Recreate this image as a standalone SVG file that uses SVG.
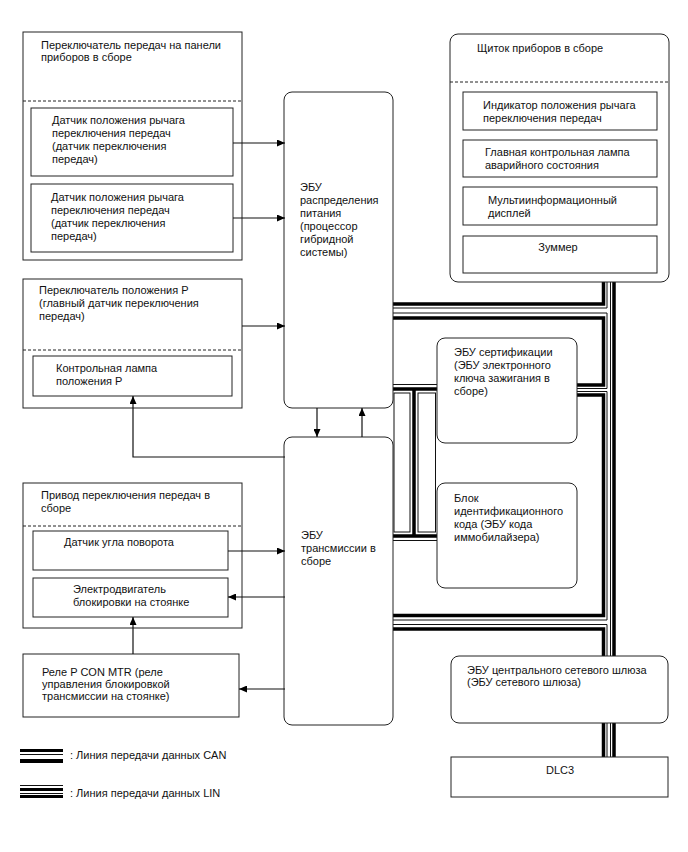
<svg xmlns="http://www.w3.org/2000/svg" width="688" height="852" viewBox="0 0 688 852">
<style>
text{font-family:"Liberation Sans",Arial,sans-serif;font-size:11px;fill:#111}
.b{fill:#fff;stroke:#222;stroke-width:1}
.d{stroke:#222;stroke-width:1;stroke-dasharray:3,2;fill:none}
.c{fill:none;stroke:#111;stroke-width:1.2}
.tk{fill:none;stroke:#000;stroke-width:3.5}
.tn{fill:none;stroke:#111;stroke-width:1}
.m{text-anchor:middle}
</style>
<defs>
<marker id="ah" markerWidth="8" markerHeight="7" refX="8" refY="3.5" orient="auto" markerUnits="userSpaceOnUse">
<path d="M0,0 L8,3.5 L0,7 z" fill="#000"/>
</marker>
</defs>
<rect width="688" height="852" fill="#fff"/>

<g id="bus">
<path class="tk" d="M393,304 H603.5 V282"/>
<path class="tn" d="M607,282 V308 H393 M393,313 H607 V388.5 H577 M577,391.5 H607 V620 H393 M393,624.5 H607 V656"/>
<path class="tn" d="M610.5,282 V656 M607,723 V757 M610.5,723 V757"/>
<path class="tk" d="M393,318 H603.5 V385 H577"/>
<path class="tk" d="M577,395 H603.5 V615.5 H393"/>
<path class="tk" d="M393,629 H603.5 V656"/>
<path class="tk" d="M614,282 V656 M614,723 V757 M603.5,723 V757"/>
<path class="tn" d="M393,384.5 H437 M393,540.5 H437"/>
<path class="tk" d="M393,389 H437 M414,389 V536 M393,536 H437"/>
<rect class="tn" x="394" y="393" width="16" height="139" fill="none"/>
<rect class="tn" x="418" y="393" width="17.5" height="139" fill="none"/>
</g>

<g id="n_shifter">
<rect class="b" x="23" y="32" width="219" height="228"/>
<line class="d" x1="23" y1="101" x2="242" y2="101"/>
<text x="41" y="49">Переключатель передач на панели</text>
<text x="41" y="61">приборов в сборе</text>
</g>
<g id="n_sensor1">
<rect class="b" x="31" y="108" width="202" height="68"/>
<text x="52" y="124">Датчик положения рычага</text>
<text x="52" y="137">переключения передач</text>
<text x="52" y="150">(датчик переключения</text>
<text x="52" y="163">передач)</text>
</g>
<g id="n_sensor2">
<rect class="b" x="31" y="184" width="202" height="68"/>
<text x="51" y="201">Датчик положения рычага</text>
<text x="51" y="214">переключения передач</text>
<text x="51" y="227">(датчик переключения</text>
<text x="51" y="240">передач)</text>
</g>

<g id="n_pswitch">
<rect class="b" x="23" y="279" width="219" height="129"/>
<line class="d" x1="23" y1="350" x2="242" y2="350"/>
<text x="39" y="294">Переключатель положения P</text>
<text x="39" y="307">(главный датчик переключения</text>
<text x="39" y="320">передач)</text>
</g>
<g id="n_plamp">
<rect class="b" x="33" y="356" width="199" height="40"/>
<text x="56" y="372">Контрольная лампа</text>
<text x="56" y="385">положения P</text>
</g>

<g id="n_actuator">
<rect class="b" x="23" y="483" width="219" height="145"/>
<line class="d" x1="23" y1="526" x2="242" y2="526"/>
<text x="41" y="499">Привод переключения передач в</text>
<text x="41" y="512">сборе</text>
</g>
<g id="n_angle">
<rect class="b" x="33" y="531" width="195" height="39"/>
<text x="64" y="546">Датчик угла поворота</text>
</g>
<g id="n_motor">
<rect class="b" x="33" y="578" width="195" height="39"/>
<text x="73" y="593">Электродвигатель</text>
<text x="73" y="606">блокировки на стоянке</text>
</g>
<g id="n_relay">
<rect class="b" x="23" y="654" width="216" height="63"/>
<text x="42" y="676">Реле P CON MTR (реле</text>
<text x="42" y="688">управления блокировкой</text>
<text x="42" y="700">трансмиссии на стоянке)</text>
</g>

<g id="n_power">
<rect class="b" x="284" y="92" width="109" height="316" rx="8"/>
<text x="300" y="191">ЭБУ</text>
<text x="300" y="204">распределения</text>
<text x="300" y="217">питания</text>
<text x="300" y="230">(процессор</text>
<text x="300" y="243">гибридной</text>
<text x="300" y="256">системы)</text>
</g>
<g id="n_trans">
<rect class="b" x="284" y="437" width="109" height="288" rx="8"/>
<text x="301" y="539">ЭБУ</text>
<text x="301" y="552">трансмиссии в</text>
<text x="301" y="565">сборе</text>
</g>

<g id="n_cluster">
<rect class="b" x="450" y="34" width="219" height="248" rx="8"/>
<line class="d" x1="450" y1="82" x2="669" y2="82"/>
<text x="477" y="52">Щиток приборов в сборе</text>
</g>
<g id="n_indicator">
<rect class="b" x="463" y="92" width="194" height="38"/>
<text x="483" y="109">Индикатор положения рычага</text>
<text x="483" y="122">переключения передач</text>
</g>
<g id="n_master">
<rect class="b" x="463" y="140" width="194" height="37"/>
<text x="485" y="156">Главная контрольная лампа</text>
<text x="485" y="169">аварийного состояния</text>
</g>
<g id="n_multi">
<rect class="b" x="463" y="187" width="194" height="38"/>
<text x="488" y="204">Мультиинформационный</text>
<text x="488" y="217">дисплей</text>
</g>
<g id="n_buzzer">
<rect class="b" x="463" y="236" width="194" height="37"/>
<text class="m" x="558" y="251">Зуммер</text>
</g>

<g id="n_cert">
<rect class="b" x="437" y="338" width="140" height="105" rx="8"/>
<text x="454" y="356">ЭБУ сертификации</text>
<text x="454" y="369">(ЭБУ электронного</text>
<text x="454" y="382">ключа зажигания в</text>
<text x="454" y="395">сборе)</text>
</g>
<g id="n_immo">
<rect class="b" x="437" y="483" width="140" height="105" rx="8"/>
<text x="454" y="502">Блок</text>
<text x="454" y="515">идентификационного</text>
<text x="454" y="528">кода (ЭБУ кода</text>
<text x="454" y="541">иммобилайзера)</text>
</g>
<g id="n_gateway">
<rect class="b" x="451" y="656" width="217" height="67" rx="8"/>
<text x="467" y="674">ЭБУ центрального сетевого шлюза</text>
<text x="467" y="686">(ЭБУ сетевого шлюза)</text>
</g>
<g id="n_dlc3">
<rect class="b" x="451" y="757" width="217" height="40"/>
<text class="m" x="560" y="774">DLC3</text>
</g>

<g id="connectors">
<path class="c" d="M233,143 H285" marker-end="url(#ah)"/>
<path class="c" d="M233,218 H285" marker-end="url(#ah)"/>
<path class="c" d="M242,326 H285" marker-end="url(#ah)"/>
<path class="c" d="M317,408 V437" marker-end="url(#ah)"/>
<path class="c" d="M362,437 V408" marker-end="url(#ah)"/>
<path class="c" d="M285,457 H133 V396" marker-end="url(#ah)"/>
<path class="c" d="M228,551 H285" marker-end="url(#ah)"/>
<path class="c" d="M285,597 H228" marker-end="url(#ah)"/>
<path class="c" d="M133,654 V617" marker-end="url(#ah)"/>
<path class="c" d="M285,689 H239" marker-end="url(#ah)"/>
</g>

<g id="legend">
<rect x="20" y="749" width="43" height="3" fill="#000"/>
<line class="tn" x1="20" y1="754.5" x2="63" y2="754.5"/>
<rect x="20" y="759" width="43" height="4" fill="#000"/>
<text x="70" y="759">: Линия передачи данных CAN</text>
<line class="tn" x1="20" y1="785.5" x2="63" y2="785.5"/>
<rect x="20" y="788" width="43" height="3" fill="#000"/>
<line class="tn" x1="20" y1="793.5" x2="63" y2="793.5"/>
<rect x="20" y="795" width="43" height="3" fill="#000"/>
<text x="70" y="797">: Линия передачи данных LIN</text>
</g>
</svg>
